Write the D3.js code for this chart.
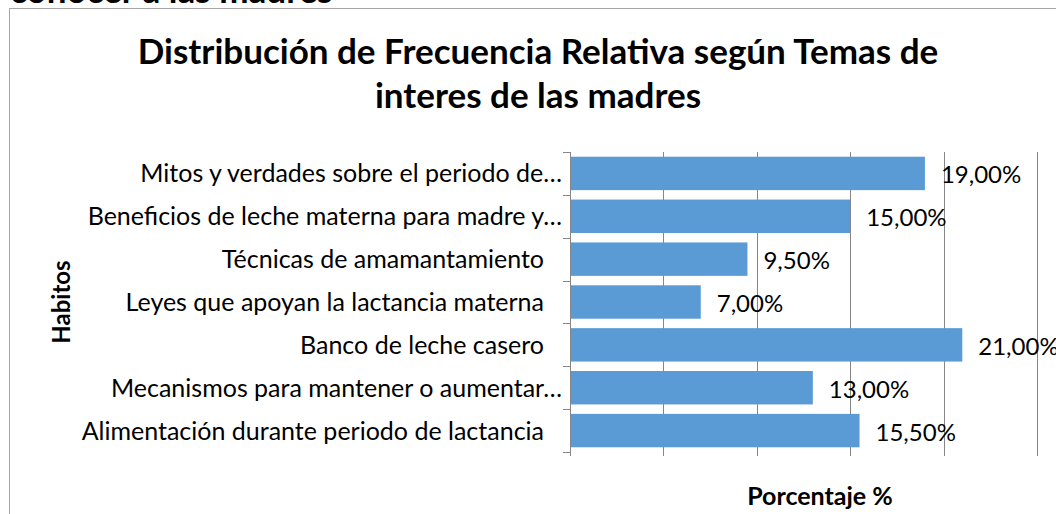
<!DOCTYPE html>
<html>
<head>
<meta charset="utf-8">
<script src="https://cdn.jsdelivr.net/npm/d3@7"></script>
<style>
  html, body { margin: 0; padding: 0; background: #fff; }
  svg { display: block; font-family: Lato, "Open Sans", sans-serif; }
</style>
</head>
<body>
<svg id="chart" width="1056" height="514"></svg>
<script>
// Topics of interest (top to bottom) and their relative frequency
const categories = [
  "Mitos y verdades sobre el periodo de…",
  "Beneficios de leche materna para madre y…",
  "Técnicas de amamantamiento",
  "Leyes que apoyan la lactancia materna",
  "Banco de leche casero",
  "Mecanismos para mantener o aumentar…",
  "Alimentación durante periodo de lactancia"
];
const values = [0.19, 0.15, 0.095, 0.07, 0.21, 0.13, 0.155];
const xTicks = [0, 0.05, 0.10, 0.15, 0.20, 0.25];
const titleLines = ["Distribución de Frecuencia Relativa según Temas de", "interes de las madres"];
const headingText = "conocer a las madres";
const yAxisTitle = "Habitos";
const xAxisTitle = "Porcentaje %";

const svg = d3.select("#chart");
const plot = { left: 570, right: 1037, top: 152, bottom: 452 };

const x = d3.scaleLinear().domain([0, 0.25]).range([plot.left, plot.right]);
const y = d3.scaleBand().domain(categories).range([plot.top, plot.bottom])
  .paddingInner(0.22).paddingOuter(0.11);

const pct = v => d3.format(".2f")(v * 100).replace(".", ",") + "%";

// Section heading above the chart frame (runs off the top of the page)
svg.append("text")
  .attr("x", 10).attr("y", 3)
  .attr("font-weight", "bold").attr("font-size", 35)
  .attr("fill", "#000")
  .text(headingText);

// Chart frame
svg.append("rect")
  .attr("x", 9.5).attr("y", 8.5)
  .attr("width", 1100).attr("height", 600)
  .attr("fill", "#fff").attr("stroke", "#a6a6a6");

// Title
svg.append("g").selectAll("text").data(titleLines).join("text")
  .attr("x", 538).attr("y", (d, i) => 64 + i * 44)
  .attr("text-anchor", "middle")
  .attr("font-weight", "bold").attr("font-size", 35)
  .attr("fill", "#000")
  .text(d => d);

// Vertical gridlines with small ticks below the plot
const xAxis = d3.axisBottom(x).tickValues(xTicks)
  .tickSize(-(plot.bottom - plot.top) - 4).tickFormat("");
const gx = svg.append("g")
  .attr("transform", `translate(0,${plot.bottom + 4})`)
  .call(xAxis);
gx.select(".domain").remove();
gx.selectAll(".tick line").attr("stroke", "#868686").attr("stroke-width", 1)
  .attr("shape-rendering", "crispEdges");

// Bars
svg.append("g").selectAll("rect").data(values).join("rect")
  .attr("x", x(0))
  .attr("y", (d, i) => y(categories[i]))
  .attr("width", d => x(d) - x(0))
  .attr("height", y.bandwidth())
  .attr("fill", "#5b9bd5");

// Category axis: line plus ticks between the bands
svg.append("line")
  .attr("x1", plot.left + 0.5).attr("x2", plot.left + 0.5)
  .attr("y1", plot.top).attr("y2", plot.bottom)
  .attr("stroke", "#868686");
const bounds = d3.range(categories.length + 1).map(i => plot.top + i * y.step());
svg.append("g").selectAll("line").data(bounds).join("line")
  .attr("x1", plot.left - 7).attr("x2", plot.left)
  .attr("y1", d => Math.round(d) + 0.5).attr("y2", d => Math.round(d) + 0.5)
  .attr("stroke", "#868686");

// Category labels
svg.append("g").selectAll("text").data(categories).join("text")
  .attr("x", d => d.endsWith("…") ? 562 : 544)
  .attr("y", d => y(d) + y.bandwidth() / 2 + 9)
  .attr("text-anchor", "end")
  .attr("font-size", 25)
  .attr("fill", "#000")
  .text(d => d);

// Value labels
svg.append("g").selectAll("text").data(values).join("text")
  .attr("x", d => x(d) + 16)
  .attr("y", (d, i) => y(categories[i]) + y.bandwidth() / 2 + 10)
  .attr("font-size", 24)
  .attr("fill", "#000")
  .text(d => pct(d));

// Axis titles
svg.append("text")
  .attr("transform", "translate(70,302) rotate(-90)")
  .attr("text-anchor", "middle")
  .attr("font-weight", "bold").attr("font-size", 24)
  .attr("fill", "#000")
  .text(yAxisTitle);

svg.append("text")
  .attr("x", 820).attr("y", 505)
  .attr("text-anchor", "middle")
  .attr("font-weight", "bold").attr("font-size", 25)
  .attr("fill", "#000")
  .text(xAxisTitle);
</script>
</body>
</html>
